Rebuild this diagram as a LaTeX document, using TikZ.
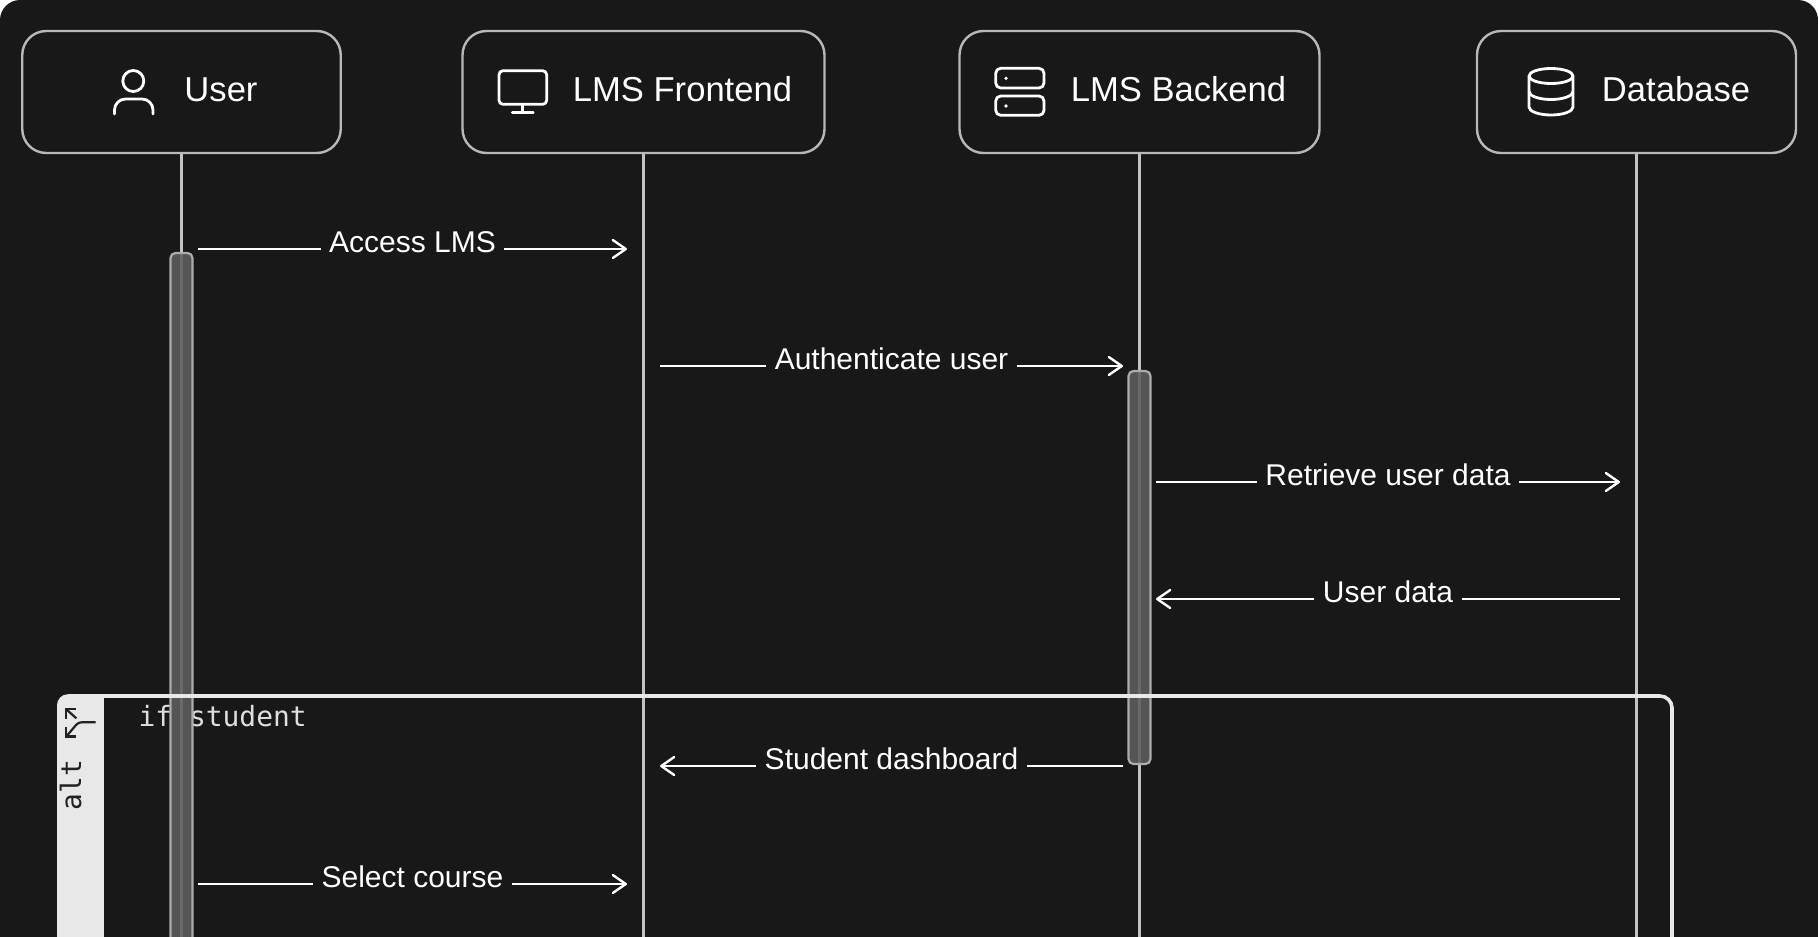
\documentclass[tikz,border=0pt]{standalone}
\usepackage{fontspec}
\usetikzlibrary{arrows.meta,calc}
\setmainfont{Liberation Sans}
\newfontfamily\monof{DejaVu Sans Mono}
\definecolor{pagebg}{HTML}{181818}
\definecolor{boxline}{HTML}{B8B8B8}
\definecolor{lifeline}{HTML}{C4C4C4}
\definecolor{altpale}{HTML}{E8E8E8}
\definecolor{altdark}{HTML}{222222}
\definecolor{iftext}{HTML}{DEDEDE}
\definecolor{barfill}{HTML}{5E5E5E}
\definecolor{barline}{HTML}{ACACAC}
\tikzset{
  head/.style={draw=boxline,line width=2.4pt,rounded corners=24pt,minimum height=122pt,inner sep=0pt,fill=pagebg},
  headtext/.style={text=white,anchor=base,inner sep=0pt,font=\fontsize{34.6pt}{40pt}\selectfont},
  icon/.style={draw=white,line width=2.8pt,line cap=round,line join=round},
  lifeln/.style={draw=lifeline,line width=2.4pt},
  actbar/.style={draw=barline,line width=2.2pt,fill=barfill,fill opacity=.88,rounded corners=5pt,minimum width=22pt,inner sep=0pt},
  msg/.style={draw=white,line width=2.4pt},
  msgarrow/.style={msg,-{Straight Barb[length=13pt,width=18pt,line width=2.4pt,round]}},
  msglabel/.style={fill=pagebg,text=white,anchor=base,inner xsep=8.5pt,inner ysep=1pt,font=\fontsize{30pt}{34pt}\selectfont},
  altline/.style={draw=altpale,line width=3.6pt,rounded corners=12pt},
  monotext/.style={inner sep=0pt,font=\monof\fontsize{27.9pt}{32pt}\selectfont},
  alticon/.style={draw=altdark,line width=2.2pt,line join=miter},
}
\begin{document}
\begin{tikzpicture}[x=1pt,y=-1pt]
\path[use as bounding box] (0,0) rectangle (1818,937);
\clip (0,0) rectangle (1818,937);
\fill[white] (0,0) rectangle (1818,937);
\fill[pagebg,rounded corners=20pt] (0,1000) -- (0,0) -- (1818,0) -- (1818,1000) -- cycle;

% participant boxes
\node[head,minimum width=318.5pt] (user) at (181.5,92) {};
\node[head,minimum width=362pt] (front) at (643.5,92) {};
\node[head,minimum width=360pt] (back) at (1139.5,92) {};
\node[head,minimum width=319pt] (db) at (1636.5,92) {};

% participant labels
\node[headtext] (usertxt) at (221,101) {User};
\node[headtext] (fronttxt) at (682.5,101) {LMS Frontend};
\node[headtext] (backtxt) at (1178.5,101) {LMS Backend};
\node[headtext] (dbtxt) at (1676,101) {Database};

% alt frame: tab and section text
\fill[altpale,rounded corners=11pt] (57,1000) -- (57,694.2) -- (120,694.2) -- (120,1000) -- cycle;
\fill[pagebg] (104,697.8) rectangle (125,1000);
\node[monotext,text=iftext,anchor=base west] (ifstudent) at (138.5,726) {if student};
\node[monotext,text=altdark,rotate=90,anchor=base] (alttxt) at (81,785) {alt};
\draw[alticon] (76.3,718.3) -- (66.3,709.3);
\draw[alticon] (66.3,718.5) -- (66.3,709.3) -- (76.3,709.3);
\draw[alticon] (95.7,722.3) -- (84,722.3) .. controls (80,722.3) and (79,722.3) .. (76,725) -- (66.3,736.5);
\draw[alticon] (66.3,727) -- (66.3,736.5) -- (75.5,736.5);

% lifelines
\coordinate (bottom) at (0,940);
\draw[lifeln] (user.south) -- (user.south |- bottom);
\draw[lifeln] (front.south) -- (front.south |- bottom);
\draw[lifeln] (back.south) -- (back.south |- bottom);
\draw[lifeln] (db.south) -- (db.south |- bottom);

% activation bars
\node[actbar,minimum height=694pt] (ubar) at (181.5,600) {};
\node[actbar,minimum height=393pt] (bbar) at (1139.5,567.5) {};

% alt frame lines, over the bars
\draw[altline] (100,696) -- (1672,696) -- (1672,1000);

% icons
\draw[icon] (133.3,81) circle[radius=10.5];
\draw[icon,rounded corners=11pt] (114.5,114) -- (114.5,99) -- (153,99) -- (153,114);
\draw[icon,rounded corners=4pt] (499,70.7) rectangle (546.7,104.3);
\draw[icon] (522.8,104.3) -- (522.8,112.7);
\draw[icon] (512.3,112.7) -- (533.3,112.7);
\draw[icon,rounded corners=5pt] (995.7,68.3) rectangle (1044,88);
\draw[icon,rounded corners=5pt] (995.7,96) rectangle (1044,115.3);
\fill[white] (1006,78.3) circle[radius=1.8];
\fill[white] (1006,106) circle[radius=1.8];
\draw[icon] (1551,76) ellipse[x radius=22,y radius=7.5];
\draw[icon] (1529,76) -- (1529,107) arc[start angle=180,end angle=360,x radius=22,y radius=-8] -- (1573,76);
\draw[icon] (1529,91.5) arc[start angle=180,end angle=360,x radius=22,y radius=-8];

% messages
\coordinate (m1a) at (198,249);  \coordinate (m1b) at (627,249);
\coordinate (m2a) at (660,366);  \coordinate (m2b) at (1123,366);
\coordinate (m3a) at (1156,482); \coordinate (m3b) at (1620,482);
\coordinate (m4a) at (1620,599); \coordinate (m4b) at (1156,599);
\coordinate (m5a) at (1123,766); \coordinate (m5b) at (660,766);
\coordinate (m6a) at (198,884);  \coordinate (m6b) at (627,884);
\draw[msgarrow] (m1a) -- (m1b);
\draw[msgarrow] (m2a) -- (m2b);
\draw[msgarrow] (m3a) -- (m3b);
\draw[msgarrow] (m4a) -- (m4b);
\draw[msgarrow] (m5a) -- (m5b);
\draw[msgarrow] (m6a) -- (m6b);
\node[msglabel] (l1) at (412.5,252) {Access LMS};
\node[msglabel] (l2) at (891.5,369) {Authenticate user};
\node[msglabel] (l3) at (1388,485) {Retrieve user data};
\node[msglabel] (l4) at (1388,602) {User data};
\node[msglabel] (l5) at (891.5,769) {Student dashboard};
\node[msglabel] (l6) at (412.5,887) {Select course};
\end{tikzpicture}
\end{document}
